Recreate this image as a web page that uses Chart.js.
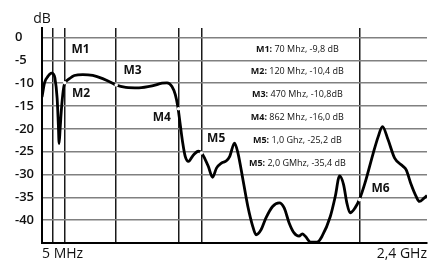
<!DOCTYPE html>
<html>
<head>
<meta charset="utf-8">
<script src="https://cdn.jsdelivr.net/npm/chart.js@4/dist/chart.umd.min.js"></script>
<style>
  html, body { margin: 0; padding: 0; background: #fff; }
</style>
</head>
<body>
<canvas id="chart" width="431" height="261"></canvas>
<script>
// Sweep trace - position along the sweep (0 = 5 MHz, 389 = 2,4 GHz) and level in dB
const sweepPos = [0, 2.7, 6, 9.5, 11.5, 13, 15.3, 16.5, 17.3, 18.3, 20, 22, 23.3, 27.7, 32.7,
    41.3, 51.3, 61.3, 71.3, 74.7, 84.7, 98, 111.3, 121.3, 126.3, 131.3, 134.7, 137.3, 139.7,
    142, 144.7, 148, 153, 158, 161.3, 164.7, 168, 172.3, 176.3, 181.3, 186.3, 189.7, 194.5,
    198, 203, 208, 213, 216.3, 221.3, 226.3, 233, 239.7, 244.7, 249.7, 254.7, 259.7, 263,
    266.3, 271.3, 278, 283, 291.3, 296.3, 300.7, 304.7, 308, 311.3, 316.3, 320.7, 326.3,
    334.7, 339.7, 344, 349.7, 356.3, 364.7, 368, 373, 378, 381.3, 386.3, 389];
const sweepDb = [-13.0, -9.8, -8.5, -7.8, -8.0, -8.8, -13.3, -19, -23.2, -20, -14.7, -10.8, -9.9, -9.0, -8.3,
    -8.1, -8.3, -9.0, -10.0, -10.4, -10.9, -11.0, -10.6, -10.0, -9.9, -10.7, -12.5, -15.2, -19.1,
    -22.8, -26, -27.1, -25.7, -24.9, -25.3, -26.6, -28.2, -30.6, -28.6, -27.5, -27.0, -26, -23.1,
    -25.3, -31.1, -37, -41.4, -43.2, -42.1, -39.5, -37, -36.2, -37.3, -40.6, -42.8, -43.5, -43.0,
    -43.6, -44.8, -44.8, -43.5, -39.2, -34.8, -30.3, -32.2, -36.2, -38.4, -37.3, -35.5, -31.9,
    -25.3, -21.7, -19.5, -22.4, -26.4, -28.2, -29, -32.2, -34.8, -35.9, -35.1, -34.6];

// Marker lines
const markerPos = [11, 23, 75, 138, 161, 321];
// Marker dots on the trace
const dotPos = [23, 75, 138, 161, 321];
const dotDb = [-9.9, -10.4, -15.6, -25.3, -35.5];

// Marker names and where they sit (pos, dB)
const markerNames = ['M1', 'M2', 'M3', 'M4', 'M5', 'M6'];
const markerLabelPos = [39, 39.5, 91.5, 121, 176, 342];
const markerLabelDb = [-2.7, -12.3, -7.3, -17.6, -22.2, -33.1];

// Readout table
const readoutHeads = ['M1:', 'M2:', 'M3:', 'M4:', 'M5:', 'M5:'];
const readoutTexts = [' 70 Mhz, -9,8 dB', ' 120 Mhz, -10,4 dB', ' 470 Mhz, -10,8dB',
    ' 862 Mhz, -16,0 dB', ' 1,0 Ghz, -25,2 dB', ' 2,0 GMhz, -35,4 dB'];
const readoutDb = [-2.5, -7.5, -12.5, -17.5, -22.5, -27.5];

// Axis ticks
const yTicks = [0, -5, -10, -15, -20, -25, -30, -35, -40];
const xEndLabels = { 0: '5 MHz', 389: '2,4 GHz' };

const FONT = '"Open Sans", "DejaVu Sans", sans-serif';

// Draws the unit, marker names and the readout table
const markerNotes = {
    id: 'markerNotes',
    afterDatasetsDraw(chart) {
        const { ctx, chartArea, scales: { x, y } } = chart;
        ctx.save();
        ctx.fillStyle = '#111';
        ctx.textBaseline = 'middle';

        ctx.font = `14px ${FONT}`;
        ctx.textAlign = 'center';
        ctx.fillText('dB', y.right, chartArea.top - 9);

        ctx.font = `bold 12px ${FONT}`;
        markerNames.forEach((name, i) => {
            ctx.fillText(name, x.getPixelForValue(markerLabelPos[i]), y.getPixelForValue(markerLabelDb[i]));
        });

        // readout rows, centred
        ctx.textAlign = 'left';
        const cx = x.getPixelForValue(258);
        readoutHeads.forEach((head, i) => {
            ctx.font = `bold 9px ${FONT}`;
            const wHead = ctx.measureText(head).width;
            ctx.font = `9px ${FONT}`;
            const wText = ctx.measureText(readoutTexts[i]).width;
            const left = cx - (wHead + wText) / 2;
            const py = y.getPixelForValue(readoutDb[i]);
            ctx.font = `bold 9px ${FONT}`;
            ctx.fillText(head, left, py);
            ctx.font = `9px ${FONT}`;
            ctx.fillText(readoutTexts[i], left + wHead, py);
        });
        ctx.restore();
    }
};

new Chart(document.getElementById('chart'), {
    type: 'line',
    data: {
        datasets: [
            {
                label: 'markers',
                data: dotPos.map((p, i) => ({ x: p, y: dotDb[i] })),
                showLine: false,
                pointRadius: 1.8,
                pointBorderWidth: 0,
                pointBackgroundColor: '#ffffff',
                order: 0
            },
            {
                label: 'trace',
                data: sweepPos.map((p, i) => ({ x: p, y: sweepDb[i] })),
                borderColor: '#000000',
                borderWidth: 2.8,
                pointRadius: 0,
                cubicInterpolationMode: 'monotone',
                fill: false,
                order: 1
            }
        ]
    },
    options: {
        responsive: false,
        animation: false,
        layout: { padding: { top: 28, left: 15, right: 0, bottom: 0 } },
        plugins: {
            legend: { display: false },
            tooltip: { enabled: false }
        },
        scales: {
            x: {
                type: 'linear',
                min: 0,
                max: 389,
                afterBuildTicks: scale => {
                    scale.ticks = [0, ...markerPos, 389].map(v => ({ value: v }));
                },
                afterFit: scale => { scale.height = 18; },
                grid: {
                    drawTicks: false,
                    lineWidth: 1.5,
                    color: ctx => (ctx.tick && markerPos.includes(ctx.tick.value)) ? '#1a1a1a' : 'rgba(0,0,0,0)'
                },
                border: { color: '#000', width: 2 },
                ticks: {
                    autoSkip: false,
                    maxRotation: 0,
                    align: 'inner',
                    padding: 3,
                    color: '#111',
                    font: { family: FONT, size: 14 },
                    callback: value => xEndLabels[value] || ''
                }
            },
            y: {
                min: -45,
                max: 2.1,
                afterBuildTicks: scale => {
                    scale.ticks = yTicks.map(v => ({ value: v }));
                },
                afterFit: scale => { scale.width = 27; },
                grid: {
                    drawTicks: false,
                    color: '#808080',
                    lineWidth: 1.5
                },
                border: { color: '#000', width: 2 },
                ticks: {
                    crossAlign: 'far',
                    color: '#111',
                    font: { family: FONT, size: 13, weight: '600' },
                    callback: value => String(value)
                }
            }
        }
    },
    plugins: [markerNotes]
});
</script>
</body>
</html>
